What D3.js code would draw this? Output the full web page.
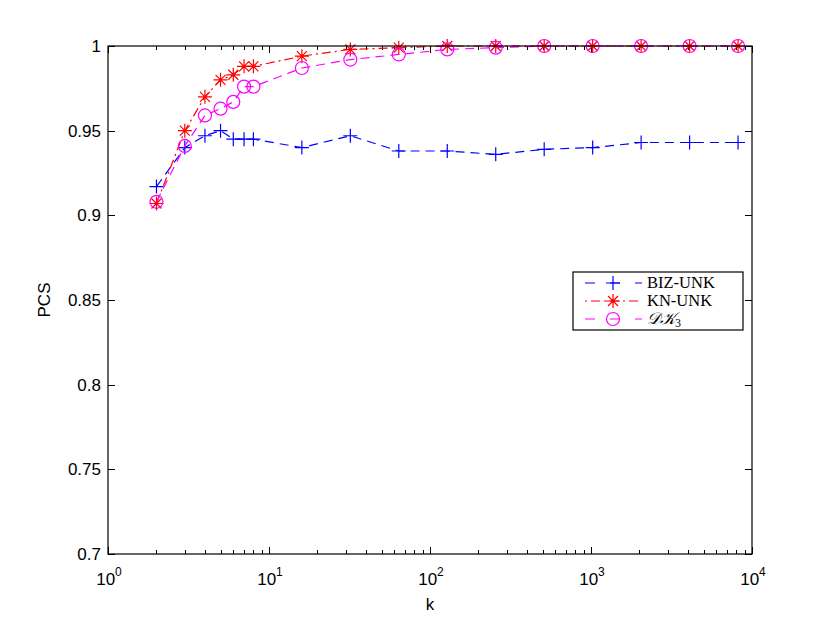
<!DOCTYPE html>
<html>
<head>
<meta charset="utf-8">
<script src="https://cdn.jsdelivr.net/npm/d3@7"></script>
<style>
  body { margin: 0; background: #fff; }
  svg { font-family: "Liberation Sans", Arial, sans-serif; }
</style>
</head>
<body>
<div id="chart"></div>
<script>
const ks = [2, 3, 4, 5, 6, 7, 8, 16, 32, 64, 128, 256, 512, 1024, 2048, 4096, 8192];
const bizUnk = [0.917, 0.940, 0.947, 0.950, 0.945, 0.945, 0.945, 0.940, 0.947, 0.938, 0.938, 0.936, 0.939, 0.940, 0.943, 0.943, 0.943];
const knUnk = [0.907, 0.950, 0.970, 0.980, 0.983, 0.988, 0.988, 0.994, 0.998, 0.999, 1.0, 1.0, 1.0, 1.0, 1.0, 1.0, 1.0];
const dk3 = [0.908, 0.941, 0.959, 0.963, 0.967, 0.976, 0.976, 0.987, 0.992, 0.995, 0.998, 0.999, 1.0, 1.0, 1.0, 1.0, 1.0];
const yTicks = [0.7, 0.75, 0.8, 0.85, 0.9, 0.95, 1];
const xExps = [0, 1, 2, 3, 4];

const series = [
    { name: 'BIZ-UNK', values: bizUnk, color: '#0000ff', dash: '9,6', marker: 'plus' },
    { name: 'KN-UNK', values: knUnk, color: '#ff0000', dash: '9,4,2,4', marker: 'star' },
    { name: 'DK3', values: dk3, color: '#ff00ff', dash: '9,6', marker: 'circle' }
];

const W = 830, H = 624;
const margin = { top: 46, right: 78, bottom: 70, left: 108 };
const width = W - margin.left - margin.right,
      height = H - margin.top - margin.bottom;

const svg = d3.select('#chart').append('svg')
    .attr('width', W).attr('height', H);
const g = svg.append('g')
    .attr('transform', 'translate(' + margin.left + ',' + margin.top + ')');

const x = d3.scaleLog().domain([1, 10000]).range([0, width]);
const y = d3.scaleLinear().domain([0.7, 1]).range([height, 0]);

// minor log ticks
let minor = [];
for (let e = 0; e < 4; e++) {
    for (let m = 2; m <= 9; m++) minor.push(m * Math.pow(10, e));
}
const majorX = xExps.map(e => Math.pow(10, e));

const ticks = g.append('g').attr('stroke', '#000').attr('stroke-width', 1);
minor.forEach(v => {
    const px = Math.round(x(v)) + 0.5;
    ticks.append('line').attr('x1', px).attr('x2', px).attr('y1', height).attr('y2', height - 4);
    ticks.append('line').attr('x1', px).attr('x2', px).attr('y1', 0).attr('y2', 4);
});
majorX.forEach(v => {
    const px = Math.round(x(v)) + 0.5;
    ticks.append('line').attr('x1', px).attr('x2', px).attr('y1', height).attr('y2', height - 7);
    ticks.append('line').attr('x1', px).attr('x2', px).attr('y1', 0).attr('y2', 7);
});
yTicks.forEach(v => {
    const py = Math.round(y(v)) + 0.5;
    ticks.append('line').attr('x1', 0).attr('x2', 7).attr('y1', py).attr('y2', py);
    ticks.append('line').attr('x1', width).attr('x2', width - 7).attr('y1', py).attr('y2', py);
});

// y tick labels
g.selectAll('.ylab').data(yTicks).enter().append('text')
    .attr('class', 'ylab')
    .attr('x', -7).attr('y', d => y(d) + 6)
    .attr('text-anchor', 'end')
    .attr('font-size', 17)
    .text(d => d3.format('')(d));

// x tick labels 10^n
const xl = g.selectAll('.xlab').data(xExps).enter().append('text')
    .attr('class', 'xlab')
    .attr('x', d => x(Math.pow(10, d)) + 1)
    .attr('y', height + 31)
    .attr('text-anchor', 'middle')
    .attr('font-size', 17);
xl.append('tspan').text('10');
xl.append('tspan').attr('dy', -9).attr('font-size', 12).text(d => d);

// axis titles
g.append('text').attr('x', width / 2).attr('y', height + 56)
    .attr('text-anchor', 'middle').attr('font-size', 17).text('k');
g.append('text').attr('transform', 'translate(-58,' + (height / 2) + ') rotate(-90)')
    .attr('text-anchor', 'middle').attr('font-size', 17).text('PCS');

// lines
const line = d3.line().x(d => x(d[0])).y(d => y(d[1]));

function drawMarker(sel, type, color) {
    if (type === 'plus') {
        sel.append('path').attr('d', 'M-7,0H7M0,-7V7');
    } else if (type === 'star') {
        sel.append('path').attr('d', 'M-7,0H7M0,-7V7M-5,-5L5,5M-5,5L5,-5');
    } else {
        sel.append('circle').attr('r', 6.5).attr('fill', 'none');
    }
    sel.attr('stroke', color).attr('stroke-width', 1.2).attr('fill', 'none');
}

series.forEach(s => {
    const pts = ks.map((k, i) => [k, s.values[i]]);
    const sg = g.append('g');
    sg.append('path').datum(pts)
        .attr('d', line)
        .attr('fill', 'none')
        .attr('stroke', s.color)
        .attr('stroke-width', 1.2)
        .attr('stroke-dasharray', s.dash);
    pts.forEach(p => {
        const m = sg.append('g').attr('transform', 'translate(' + x(p[0]) + ',' + y(p[1]) + ')');
        drawMarker(m, s.marker, s.color);
    });
});

// frame
g.append('rect').attr('width', width).attr('height', height)
    .attr('fill', 'none').attr('stroke', '#000').attr('stroke-width', 1.2);

// legend
const lg = svg.append('g').attr('transform', 'translate(573,272)');
lg.append('rect').attr('width', 170).attr('height', 58)
    .attr('fill', '#fff').attr('stroke', '#000').attr('stroke-width', 1.2);
series.forEach((s, i) => {
    const ly = 11 + i * 18;
    lg.append('line').attr('x1', 12).attr('x2', 69).attr('y1', ly).attr('y2', ly)
        .attr('stroke', s.color).attr('stroke-width', 1.2).attr('stroke-dasharray', i === 1 ? '2,4,9,4' : '10,15');
    const m = lg.append('g').attr('transform', 'translate(40,' + ly + ')');
    drawMarker(m, s.marker, s.color);
    const t = lg.append('text').attr('x', 74).attr('y', ly + 5)
        .attr('font-family', '"Liberation Serif", "DejaVu Serif", serif')
        .attr('font-size', 16.5);
    if (s.name === 'DK3') {
        t.append('tspan').attr('font-style', 'italic').text('\u{1D49F}\u{1D4A6}');
        t.append('tspan').attr('dy', 3).attr('font-size', 12).text('3');
    } else {
        t.text(s.name);
    }
});
</script>
</body>
</html>
